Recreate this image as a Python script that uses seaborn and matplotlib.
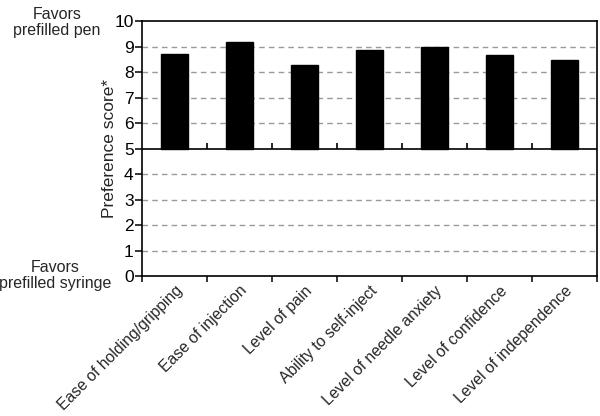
import numpy as np
import pandas as pd
import seaborn as sns
import matplotlib.pyplot as plt

# Data
attributes = ["Ease of holding/gripping", "Ease of injection", "Level of pain",
              "Ability to self-inject", "Level of needle anxiety",
              "Level of confidence", "Level of independence"]
scores = [8.70, 9.17, 8.28, 8.87, 9.00, 8.68, 8.46]
neutral = 5

df = pd.DataFrame({"attribute": attributes, "score": scores})
df["above"] = df["score"] - neutral

sns.set_style("white")
plt.rcParams["font.family"] = ["Liberation Sans", "DejaVu Sans"]

fig = plt.figure(figsize=(6, 4.16), dpi=100)
ax = fig.add_axes([0.2367, 0.3365, 0.7583, 0.613])

# Bars rise from the neutral score of 5
sns.barplot(data=df, x="attribute", y="above", color="black", width=0.42,
            bottom=neutral, saturation=1, edgecolor="black", ax=ax, zorder=3)

ax.set_ylim(0, 10)
ax.set_xlim(-0.5, len(attributes) - 0.5)
ax.set_yticks(range(0, 11))
for v in [1, 2, 3, 4, 6, 7, 8, 9]:
    ax.axhline(v, color="#999999", lw=1, ls=(0, (4, 3)), zorder=1)

# Middle line at the neutral score, with small ticks between categories
ax.axhline(neutral, color="black", lw=1.2, zorder=4)
ax.vlines(np.arange(0.5, len(attributes) - 1), neutral, neutral + 0.2,
          color="black", lw=1.2, zorder=4)

for s in ax.spines.values():
    s.set_color("black")
    s.set_linewidth(1.2)

ax.tick_params(axis="y", left=True, direction="out", length=5, width=1.1,
               labelsize=12.5, pad=1, colors="black")
ax.set_xticks(range(len(attributes)))
ax.set_xticklabels(attributes, rotation=45, ha="right", rotation_mode="anchor",
                   fontsize=11.3)
ax.set_xticks(np.arange(-0.5, len(attributes)), minor=True)
ax.tick_params(axis="x", which="major", bottom=True, length=0, pad=5)
ax.tick_params(axis="x", which="minor", bottom=True, direction="out",
               length=4, width=1.1, color="black")

ax.set_xlabel("")
ax.set_ylabel("Preference score*", fontsize=12.5, labelpad=-2)

fig.text(0.095, 0.945, "Favors\nprefilled pen", ha="center", va="center",
         fontsize=11.5, linespacing=1.1)
fig.text(0.092, 0.338, "Favors\nprefilled syringe", ha="center", va="center",
         fontsize=11.5, linespacing=1.1)

fig.savefig("out.png", dpi=100)
